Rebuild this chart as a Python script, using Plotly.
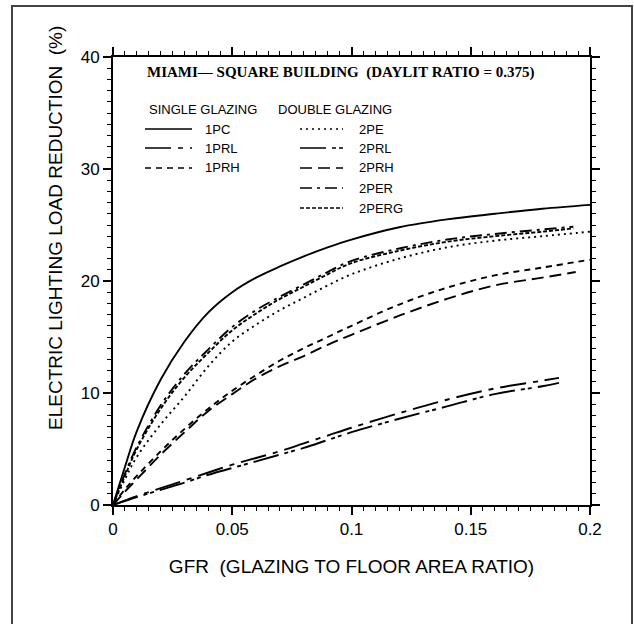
import plotly.graph_objects as go

# ---------------- data ----------------
GFR = [0, 0.005, 0.01, 0.02, 0.03, 0.04, 0.05, 0.06, 0.07, 0.08, 0.09, 0.10, 0.12, 0.14, 0.16, 0.18, 0.20]

x_1PC = GFR
y_1PC = [0, 3.4, 6.6, 11.2, 14.6, 17.2, 19.0, 20.3, 21.3, 22.2, 23.0, 23.7, 24.8, 25.5, 26.0, 26.45, 26.8]

x_1PRL = [0, 0.01, 0.02, 0.03, 0.04, 0.05, 0.06, 0.07, 0.08, 0.09, 0.10, 0.12, 0.14, 0.16, 0.18, 0.187]
y_1PRL = [0, 0.8, 1.5, 2.2, 2.9, 3.6, 4.2, 4.8, 5.5, 6.2, 6.9, 8.2, 9.4, 10.4, 11.1, 11.35]

x_1PRH = GFR
y_1PRH = [0, 1.4, 2.6, 4.8, 6.8, 8.6, 10.2, 11.6, 12.9, 14.0, 15.0, 16.0, 17.9, 19.4, 20.5, 21.2, 21.9]

x_2PE = GFR
y_2PE = [0, 2.3, 4.3, 7.2, 9.7, 12.4, 14.6, 16.1, 17.4, 18.5, 19.6, 20.6, 22.0, 23.0, 23.6, 24.0, 24.4]

x_2PRL = [0, 0.01, 0.02, 0.03, 0.04, 0.05, 0.06, 0.07, 0.08, 0.09, 0.10, 0.12, 0.14, 0.16, 0.18, 0.187]
y_2PRL = [0, 0.7, 1.35, 2.0, 2.7, 3.3, 3.9, 4.5, 5.1, 5.8, 6.5, 7.7, 8.8, 9.9, 10.6, 10.9]

x_2PRH = [0, 0.005, 0.01, 0.02, 0.03, 0.04, 0.05, 0.06, 0.07, 0.08, 0.09, 0.10, 0.12, 0.14, 0.16, 0.18, 0.194]
y_2PRH = [0, 1.2, 2.3, 4.5, 6.5, 8.4, 9.9, 11.3, 12.4, 13.3, 14.3, 15.2, 16.9, 18.4, 19.6, 20.3, 20.8]

x_2PER = [0, 0.005, 0.01, 0.02, 0.03, 0.04, 0.05, 0.06, 0.07, 0.08, 0.09, 0.10, 0.12, 0.14, 0.16, 0.18, 0.193]
y_2PER = [0, 2.8, 5.2, 8.9, 11.7, 13.9, 15.9, 17.4, 18.6, 19.7, 20.8, 21.8, 22.9, 23.7, 24.2, 24.6, 24.85]

x_2PERG = [0, 0.005, 0.01, 0.02, 0.03, 0.04, 0.05, 0.06, 0.07, 0.08, 0.09, 0.10, 0.12, 0.14, 0.16, 0.18, 0.193]
y_2PERG = [0, 2.6, 5.0, 8.6, 11.4, 13.6, 15.6, 17.1, 18.4, 19.5, 20.6, 21.6, 22.7, 23.5, 24.0, 24.4, 24.7]

x_ticks = [0, 0.05, 0.1, 0.15, 0.2]
x_tick_text = ["0", "0.05", "0.1", "0.15", "0.2"]
y_ticks = [0, 10, 20, 30, 40]

single_names = ["1PC", "1PRL", "1PRH"]
double_names = ["2PE", "2PRL", "2PRH", "2PER", "2PERG"]

# ---------------- styles ----------------
DASH = {
    "1PC": "solid",
    "1PRL": "26px,7px,5px,7px",
    "1PRH": "6px,5px",
    "2PE": "2px,4px",
    "2PRL": "26px,6px,4px,3px,4px,6px",
    "2PRH": "12px,6px",
    "2PER": "12px,5px,3px,5px",
    "2PERG": "4px,2px",
}
series = {
    "1PC": (x_1PC, y_1PC), "1PRL": (x_1PRL, y_1PRL), "1PRH": (x_1PRH, y_1PRH),
    "2PE": (x_2PE, y_2PE), "2PRL": (x_2PRL, y_2PRL), "2PRH": (x_2PRH, y_2PRH),
    "2PER": (x_2PER, y_2PER), "2PERG": (x_2PERG, y_2PERG),
}

# plot area in page pixels
L, R, T, B = 113, 590, 57, 505
W, H = 634, 624

def fx(p):
    return (p - L) / (R - L)

def fy(p):
    return (B - p) / (B - T)

fig = go.Figure()
for name, (xs, ys) in series.items():
    fig.add_trace(go.Scatter(
        x=xs, y=ys, mode="lines", name=name, line_shape="spline",
        line=dict(color="black", width=1.9, dash=DASH[name]),
        hoverinfo="skip", showlegend=False))

# invisible trace to anchor mirrored axes
fig.add_trace(go.Scatter(x=x_1PC[:1], y=y_1PC[:1], xaxis="x2", yaxis="y2",
                         mode="markers", marker=dict(opacity=0), showlegend=False,
                         hoverinfo="skip"))

FONT = "Liberation Sans, Arial, sans-serif"
axis_common = dict(showgrid=False, zeroline=False, showline=True, linecolor="black",
                   linewidth=1.8, ticks="outside", ticklen=8, tickwidth=1.5,
                   tickcolor="black")

fig.update_layout(
    width=W, height=H,
    margin=dict(l=L, r=W - R, t=T, b=H - B),
    paper_bgcolor="white", plot_bgcolor="white",
    font=dict(family=FONT, color="black"),
    xaxis=dict(range=[0, 0.2], tickvals=x_ticks, ticktext=x_tick_text,
               tickfont=dict(size=17, family=FONT),
               minor=dict(dtick=0.005, ticklen=4, tickwidth=1, ticks="outside", tickcolor="black"),
               title=dict(text="GFR  (GLAZING TO FLOOR AREA RATIO)", font=dict(size=19, family=FONT),
                          standoff=21),
               **axis_common),
    yaxis=dict(range=[0, 40], tickvals=y_ticks,
               tickfont=dict(size=17, family=FONT),
               minor=dict(dtick=1, ticklen=4, tickwidth=1, ticks="outside", tickcolor="black"),
               **axis_common),
    xaxis2=dict(range=[0, 0.2], overlaying="x", side="top", tickvals=x_ticks,
                showticklabels=False,
                minor=dict(dtick=0.005, ticklen=4, tickwidth=1, ticks="outside", tickcolor="black"),
                **axis_common),
    yaxis2=dict(range=[0, 40], overlaying="y", side="right", tickvals=y_ticks,
                showticklabels=False,
                minor=dict(dtick=1, ticklen=4, tickwidth=1, ticks="outside", tickcolor="black"),
                **axis_common),
)

shapes = []
# outer frame
shapes.append(dict(type="rect", xref="paper", yref="paper",
                   x0=fx(12), x1=fx(632), y0=fy(640), y1=fy(6),
                   line=dict(color="#444", width=2), fillcolor="rgba(0,0,0,0)", layer="below"))

annotations = []
# y-axis title (sits above the axis centre, as in the reference)
annotations.append(dict(text="ELECTRIC LIGHTING LOAD REDUCTION  (%)", xref="paper", yref="paper",
                        x=fx(55), y=fy(228), xanchor="center", yanchor="middle", textangle=-90,
                        showarrow=False, font=dict(size=19, family=FONT)))
annotations.append(dict(text="<b>MIAMI\u2014 SQUARE BUILDING  (DAYLIT RATIO = 0.375)</b>",
                        xref="paper", yref="paper", x=fx(145), y=fy(72),
                        xanchor="left", yanchor="middle", showarrow=False,
                        font=dict(family="Liberation Serif, Times New Roman, serif", size=15, color="black")))
annotations.append(dict(text="SINGLE GLAZING", xref="paper", yref="paper", x=fx(147), y=fy(110),
                        xanchor="left", yanchor="middle", showarrow=False, font=dict(size=13, family=FONT)))
annotations.append(dict(text="DOUBLE GLAZING", xref="paper", yref="paper", x=fx(276), y=fy(110),
                        xanchor="left", yanchor="middle", showarrow=False, font=dict(size=13, family=FONT)))

rows = [129, 148, 168, 188, 208]
for i, name in enumerate(single_names):
    shapes.append(dict(type="line", xref="paper", yref="paper", x0=fx(145), x1=fx(192),
                       y0=fy(rows[i]), y1=fy(rows[i]),
                       line=dict(color="black", width=1.6, dash=DASH[name])))
    annotations.append(dict(text=name, xref="paper", yref="paper", x=fx(203), y=fy(rows[i]),
                            xanchor="left", yanchor="middle", showarrow=False,
                            font=dict(size=13, family=FONT)))
for i, name in enumerate(double_names):
    shapes.append(dict(type="line", xref="paper", yref="paper", x0=fx(300), x1=fx(343),
                       y0=fy(rows[i]), y1=fy(rows[i]),
                       line=dict(color="black", width=1.6, dash=DASH[name])))
    annotations.append(dict(text=name, xref="paper", yref="paper", x=fx(357), y=fy(rows[i]),
                            xanchor="left", yanchor="middle", showarrow=False,
                            font=dict(size=13, family=FONT)))

fig.update_layout(shapes=shapes, annotations=annotations)
fig.write_html("out.html")
